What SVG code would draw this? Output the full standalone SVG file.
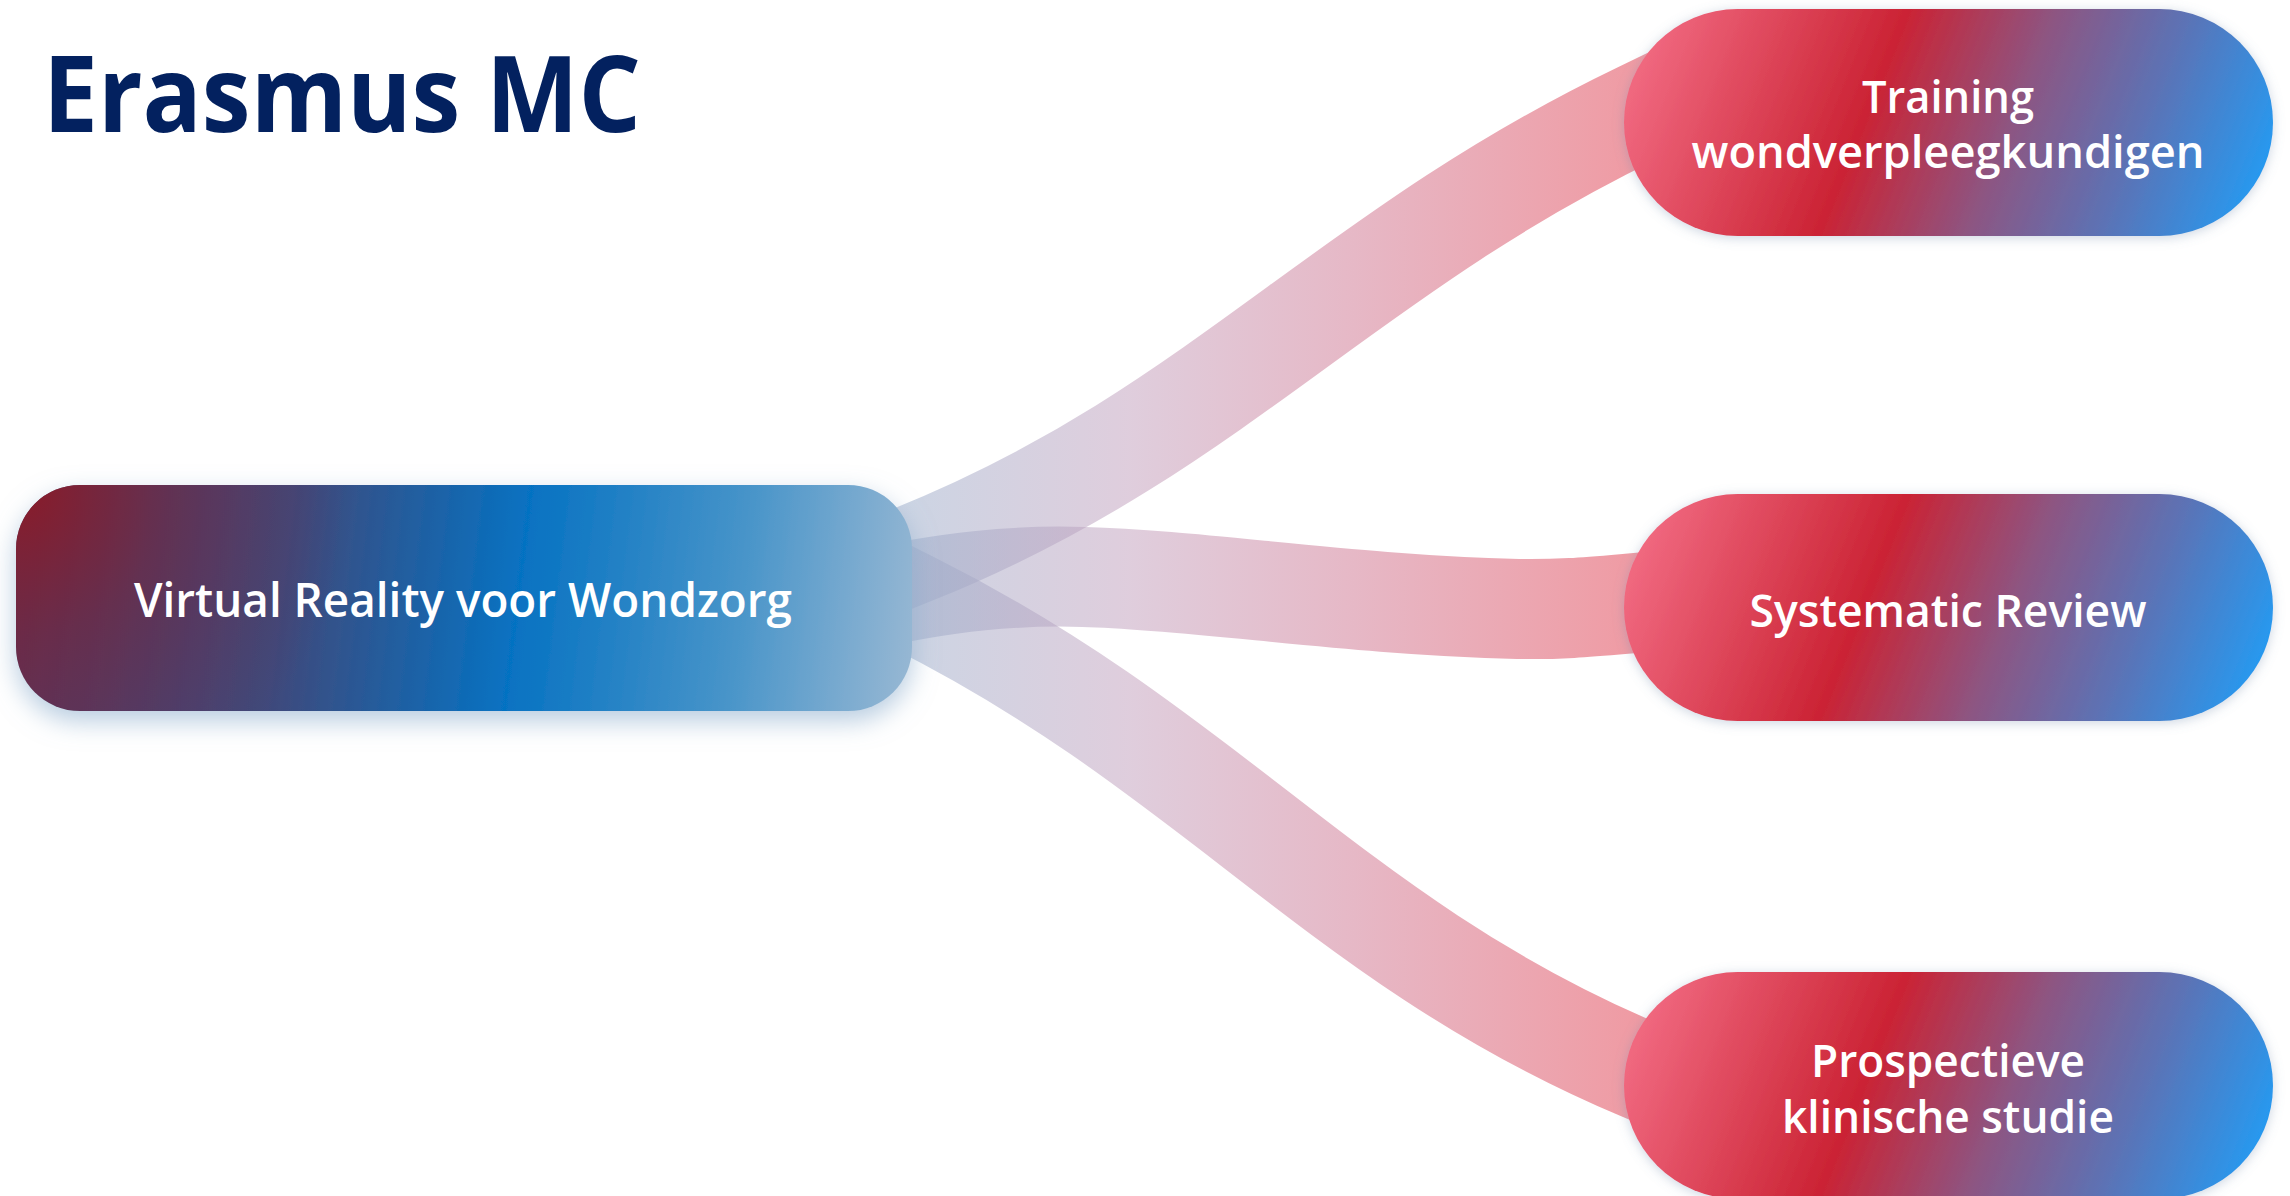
<svg xmlns="http://www.w3.org/2000/svg" width="2290" height="1196" viewBox="0 0 2290 1196">
  <defs>
    <style>
      .title { font-family: "Open Sans", "Noto Sans", "Liberation Sans", sans-serif; font-weight: 700; font-size: 105px; fill: #03215f; }
      .lbl { font-family: "Open Sans", "Noto Sans", "Liberation Sans", sans-serif; font-weight: 600; font-size: 47px; fill: #ffffff; text-anchor: middle; }
      .rlbl { font-family: "Open Sans", "Noto Sans", "Liberation Sans", sans-serif; font-weight: 600; font-size: 45px; fill: #ffffff; text-anchor: middle; }
      .ribbon { fill: none; stroke: url(#ribbonGrad); stroke-width: 100; stroke-opacity: 0.52; stroke-linecap: butt; }
    </style>
    <linearGradient id="ribbonGrad" gradientUnits="userSpaceOnUse" x1="912" y1="0" x2="1640" y2="0">
      <stop offset="0" stop-color="#9eadca"/>
      <stop offset="0.3" stop-color="#c2a0bd"/>
      <stop offset="0.6" stop-color="#cf7893"/>
      <stop offset="1" stop-color="#e13e4e"/>
    </linearGradient>
    <linearGradient id="leftGrad" gradientUnits="userSpaceOnUse" x1="15" y1="543" x2="912" y2="652">
      <stop offset="0" stop-color="#603155"/>
      <stop offset="0.3" stop-color="#3f497b"/>
      <stop offset="0.56" stop-color="#0672c2"/>
      <stop offset="0.8" stop-color="#4794c9"/>
      <stop offset="1" stop-color="#96b7d3"/>
    </linearGradient>
    <radialGradient id="leftRed" gradientUnits="userSpaceOnUse" cx="15" cy="485" r="340">
      <stop offset="0" stop-color="#8c1a27" stop-opacity="1"/>
      <stop offset="0.45" stop-color="#7a2236" stop-opacity="0.45"/>
      <stop offset="1" stop-color="#6a2a48" stop-opacity="0"/>
    </radialGradient>
    <linearGradient id="rightGrad" x1="0" y1="0.43" x2="1" y2="0.57">
      <stop offset="0" stop-color="#f0687f"/>
      <stop offset="0.37" stop-color="#cb2334"/>
      <stop offset="0.6" stop-color="#8c5683"/>
      <stop offset="0.8" stop-color="#5b73b6"/>
      <stop offset="1" stop-color="#2898ee"/>
    </linearGradient>
    <filter id="leftShadow" x="-10%" y="-30%" width="120%" height="170%">
      <feDropShadow dx="0" dy="10" stdDeviation="13" flood-color="#86a9cb" flood-opacity="0.6"/>
    </filter>
    <filter id="rightShadow" x="-10%" y="-20%" width="120%" height="140%">
      <feDropShadow dx="0" dy="2" stdDeviation="6" flood-color="#7088aa" flood-opacity="0.35"/>
    </filter>
  </defs>

  <rect x="0" y="0" width="2290" height="1196" fill="#ffffff"/>

  <g id="title">
    <text class="title" x="43" y="132" textLength="598" lengthAdjust="spacingAndGlyphs">Erasmus MC</text>
  </g>

  <g id="connectors">
    <path class="ribbon" d="M 860 576 L 912 555 C 1212 435, 1340 256, 1640 112 L 1700 83"/>
    <path class="ribbon" d="M 850 603 C 950 580, 1020 575, 1084 577 C 1200 580, 1350 605, 1518 609 C 1580 610, 1610 604, 1700 598"/>
    <path class="ribbon" d="M 860 576 L 912 602 C 1212 752, 1340 944, 1640 1070 L 1700 1095"/>
  </g>

  <g id="node-vr">
    <rect x="16" y="485" width="896" height="226" rx="64" ry="64" fill="url(#leftGrad)" filter="url(#leftShadow)"/>
    <rect x="16" y="485" width="896" height="226" rx="64" ry="64" fill="url(#leftRed)"/>
    <text class="lbl" x="463" y="617" textLength="658" lengthAdjust="spacingAndGlyphs">Virtual Reality voor Wondzorg</text>
  </g>

  <g id="node-training">
    <rect x="1624" y="9" width="649" height="227" rx="113.5" ry="113.5" fill="url(#rightGrad)" filter="url(#rightShadow)"/>
    <text class="rlbl" x="1948" y="113" textLength="172" lengthAdjust="spacingAndGlyphs">Training</text>
    <text class="rlbl" x="1948" y="168" textLength="513" lengthAdjust="spacingAndGlyphs">wondverpleegkundigen</text>
  </g>

  <g id="node-review">
    <rect x="1624" y="494" width="649" height="227" rx="113.5" ry="113.5" fill="url(#rightGrad)" filter="url(#rightShadow)"/>
    <text class="rlbl" x="1948" y="627" textLength="397" lengthAdjust="spacingAndGlyphs">Systematic Review</text>
  </g>

  <g id="node-studie">
    <rect x="1624" y="972" width="649" height="227" rx="113.5" ry="113.5" fill="url(#rightGrad)" filter="url(#rightShadow)"/>
    <text class="rlbl" x="1948" y="1077" textLength="274" lengthAdjust="spacingAndGlyphs">Prospectieve</text>
    <text class="rlbl" x="1948" y="1133" textLength="332" lengthAdjust="spacingAndGlyphs">klinische studie</text>
  </g>
</svg>
